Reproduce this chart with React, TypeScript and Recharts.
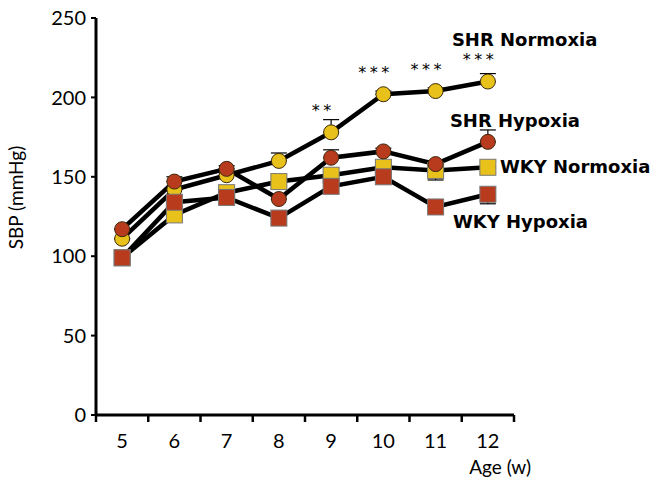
import React from 'react';
import {ComposedChart, Line, XAxis, YAxis, ErrorBar, LabelList} from 'recharts';

// age in weeks
const ages = ['5', '6', '7', '8', '9', '10', '11', '12'];

// systolic blood pressure (mmHg)
const shrNormoxia = [111, 142, 151, 160, 178, 202, 204, 210];
const shrHypoxia = [117, 147, 155, 136, 162, 166, 158, 172];
const wkyNormoxia = [99, 126, 140, 147, 151, 156, 154, 156];
const wkyHypoxia = [99, 134, 137, 124, 144, 150, 131, 139];

// error bars as [below, above]
const shrNormoxiaErr = [[0, 0], [0, 2], [0, 2], [0, 5], [0, 8], [0, 2], [0, 2], [0, 5]];
const shrHypoxiaErr = [[0, 0], [0, 3], [0, 2], [0, 2], [0, 5], [0, 2], [0, 2], [0, 7.5]];
const wkyNormoxiaErr = [[0, 0], [0, 0], [0, 0], [0, 0], [0, 0], [0, 0], [6, 0], [0, 0]];
const wkyHypoxiaErr = [[0, 0], [0, 0], [0, 0], [0, 0], [0, 0], [0, 0], [0, 0], [6, 0]];

const stars = ['', '', '', '', '**', '***', '***', '***'];
const yTicks = [0, 50, 100, 150, 200, 250];

const data = ages.map((age, i) => ({
    age,
    shrN: shrNormoxia[i],
    shrH: shrHypoxia[i],
    wkyN: wkyNormoxia[i],
    wkyH: wkyHypoxia[i],
    shrNErr: shrNormoxiaErr[i],
    shrHErr: shrHypoxiaErr[i],
    wkyNErr: wkyNormoxiaErr[i],
    wkyHErr: wkyHypoxiaErr[i],
    stars: stars[i],
}));

const YELLOW = '#e8c21a';
const RED = '#b93b1d';
const W = 656;
const H = 480;
const MARGIN = {top: 18, right: 142, bottom: 35, left: 36};
const Y_AXIS_W = 60;
const HALF_BAND = (W - MARGIN.left - MARGIN.right - Y_AXIS_W) / ages.length / 2;
const tickFont = 'Lato, "Open Sans", sans-serif';
const boldFont = '"DejaVu Sans", Verdana, sans-serif';

const circleDot = (fill: string) => (p: any) => (
    <circle key={`c-${fill}-${p.index}`} cx={p.cx} cy={p.cy} r={7.5} fill={fill} stroke="#3b2a10" strokeWidth={1}/>
);

const squareDot = (fill: string) => (p: any) => (
    <rect key={`s-${fill}-${p.index}`} x={p.cx - 8} y={p.cy - 8} width={16} height={16} fill={fill}
          stroke="#777" strokeWidth={1}/>
);

const XTick = (props: any) => {
    const {x, y, payload, index} = props;
    const last = index === ages.length - 1;
    return (
        <g>
            <line x1={x - HALF_BAND} y1={y} x2={x - HALF_BAND} y2={y + 7} stroke="#000" strokeWidth={2.5}/>
            {last && <line x1={x + HALF_BAND} y1={y} x2={x + HALF_BAND} y2={y + 7} stroke="#000" strokeWidth={2.5}/>}
            <text x={x} y={y + 33} textAnchor="middle" fontSize={20} fontFamily={tickFont} fill="#000">
                {payload.value}
            </text>
        </g>
    );
};

const seriesLabel = (name: string, dx: number, dy: number) => (p: any) => {
    if (p.index !== ages.length - 1) return null;
    return (
        <text x={p.x + dx} y={p.y + dy} fontSize={18} fontWeight="bold" fontFamily={boldFont} fill="#000">
            {name}
        </text>
    );
};

const starLabel = (p: any) => {
    if (!p.value) return null;
    return (
        <text x={p.x - 8} y={p.y - 21} textAnchor="middle" dominantBaseline="middle" fontSize={16}
              letterSpacing={3.5} fontFamily={boldFont} fill="#000">
            {p.value}
        </text>
    );
};

const App: React.FC = () => (
    <div style={{position: 'absolute', left: 0, top: 0}}>
        <ComposedChart width={W} height={H} data={data} margin={MARGIN}>
            <XAxis dataKey="age" scale="band" tickLine={false} tickSize={0} tickMargin={0} interval={0}
                   axisLine={{stroke: '#000', strokeWidth: 3}} tick={<XTick/>} height={30}
                   label={({viewBox}: any) => (
                       <text x={viewBox.x + viewBox.width + 17} y={viewBox.y + 59} textAnchor="end"
                             fontSize={19} fontFamily={tickFont} fill="#000">Age (w)</text>
                   )}/>
            <YAxis type="number" domain={[0, 250]} ticks={yTicks} width={Y_AXIS_W} interval={0}
                   axisLine={{stroke: '#000', strokeWidth: 3}} tickLine={{stroke: '#000', strokeWidth: 2}}
                   tickSize={5} tickMargin={5}
                   tick={{fill: '#000', fontSize: 20, fontFamily: tickFont}}
                   label={({viewBox}: any) => (
                       <text x={18} y={viewBox.y + viewBox.height / 2 - 19} textAnchor="middle"
                             dominantBaseline="middle" fontSize={19} fontFamily={tickFont} fill="#000"
                             transform={`rotate(-90 18 ${viewBox.y + viewBox.height / 2 - 19})`}>
                           SBP (mmHg)
                       </text>
                   )}/>
            <Line dataKey="wkyN" stroke="#000" strokeWidth={4.5} dot={squareDot(YELLOW)} isAnimationActive={false}>
                <ErrorBar dataKey="wkyNErr" width={8} stroke="#000" strokeWidth={1.2} direction="y"/>
                <LabelList dataKey="wkyN" content={seriesLabel('WKY Normoxia', 12, 6)}/>
            </Line>
            <Line dataKey="shrN" stroke="#000" strokeWidth={4.5} dot={circleDot(YELLOW)} isAnimationActive={false}>
                <ErrorBar dataKey="shrNErr" width={8} stroke="#000" strokeWidth={1.2} direction="y"/>
                <LabelList dataKey="shrN" content={seriesLabel('SHR Normoxia', -36, -36)}/>
                <LabelList dataKey="stars" content={starLabel}/>
            </Line>
            <Line dataKey="wkyH" stroke="#000" strokeWidth={4.5} dot={squareDot(RED)} isAnimationActive={false}>
                <ErrorBar dataKey="wkyHErr" width={8} stroke="#000" strokeWidth={1.2} direction="y"/>
                <LabelList dataKey="wkyH" content={seriesLabel('WKY Hypoxia', -35, 34)}/>
            </Line>
            <Line dataKey="shrH" stroke="#000" strokeWidth={4.5} dot={circleDot(RED)} isAnimationActive={false}>
                <ErrorBar dataKey="shrHErr" width={8} stroke="#000" strokeWidth={1.2} direction="y"/>
                <LabelList dataKey="shrH" content={seriesLabel('SHR Hypoxia', -38, -15)}/>
            </Line>
        </ComposedChart>
    </div>
);

export default App;
